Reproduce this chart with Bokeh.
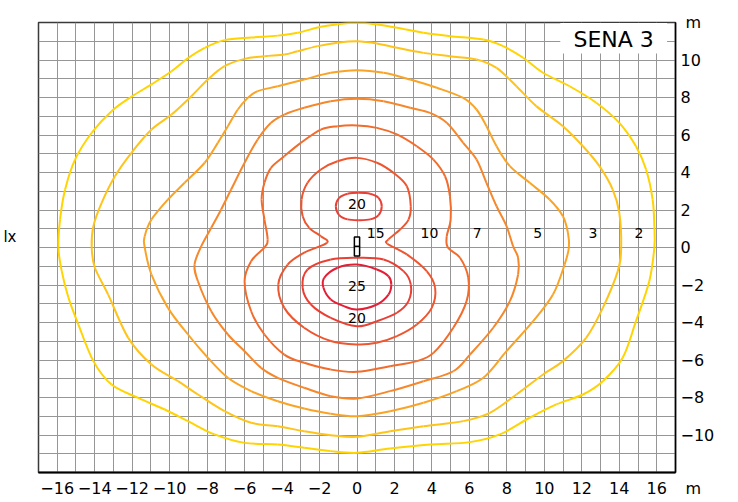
from bokeh.plotting import figure
from bokeh.models import (ColumnDataSource, FixedTicker, Label, LabelSet,
                          BoxAnnotation, LinearAxis)
from bokeh.core.properties import value
from bokeh.embed import file_html
from bokeh.resources import INLINE

# ---------------- data ----------------
levels = [2, 3, 5, 7, 10, 15, 20, 20, 25]
colors = ["#FFD400", "#FFC41A", "#F9A427", "#F6872B", "#F26C2C",
          "#EE5630", "#EA4034", "#EA4034", "#E51E36"]

c2 = [(0, 12.0), (1.06, 11.89), (2.13, 11.72), (3.55, 11.45), (4.96, 11.27), (6.74, 11.09),
      (7.8, 10.74), (8.87, 10.12), (9.93, 9.32), (11.35, 8.6), (12.77, 7.72), (14.0, 6.65),
      (14.89, 5.4), (15.43, 4.16), (15.78, 2.56), (15.87, 1.14), (15.87, 0.0),
      (15.6, -1.8), (14.89, -3.93), (14.18, -5.88), (13.12, -7.13), (12.06, -7.84),
      (10.64, -8.37), (9.22, -9.08), (7.62, -9.97), (6.03, -10.38), (3.9, -10.51),
      (1.77, -10.72), (0, -10.95),
      (-1.4, -10.86), (-2.82, -10.68), (-4.23, -10.51), (-6.0, -10.42), (-7.6, -9.97),
      (-9.02, -9.26), (-10.26, -8.64), (-11.68, -8.02), (-13.1, -7.31), (-14.07, -6.06),
      (-14.87, -4.11), (-15.4, -2.68), (-15.76, -1.26), (-15.94, 0.0),
      (-15.85, 1.49), (-15.58, 3.09), (-15.05, 4.69), (-14.16, 6.12), (-13.1, 7.27),
      (-12.04, 8.04), (-10.97, 8.7), (-9.9, 9.4), (-9.02, 10.1), (-8.13, 10.65),
      (-7.07, 11.06), (-5.65, 11.2), (-4.23, 11.3), (-3.17, 11.45), (-1.93, 11.77),
      (-1.04, 11.9), (0, 12.0)]

c3 = [(0, 11.0), (1.06, 10.88), (2.13, 10.65), (3.55, 10.38), (4.96, 10.2), (6.38, 10.03),
      (7.45, 9.58), (8.51, 8.6), (9.57, 7.54), (10.99, 6.47), (12.06, 5.4), (12.94, 4.34),
      (13.65, 3.09), (14.0, 1.85), (14.1, 0.0),
      (13.92, -1.26), (13.12, -3.22), (12.23, -4.82), (10.99, -6.06), (9.93, -6.77),
      (8.51, -7.84), (7.09, -8.82), (5.67, -9.26), (3.55, -9.53), (1.77, -9.8), (0, -10.1),
      (-1.4, -10.01), (-2.82, -9.8), (-4.23, -9.53), (-5.65, -9.35), (-7.07, -8.73),
      (-8.49, -7.84), (-9.55, -7.13), (-10.97, -6.24), (-12.21, -4.82), (-13.28, -2.51),
      (-13.99, -1.08), (-14.16, 0.0),
      (-14.07, 1.14), (-13.63, 2.38), (-12.92, 3.8), (-12.04, 5.05), (-10.97, 6.29),
      (-9.9, 7.09), (-8.84, 8.07), (-7.96, 8.96), (-7.07, 9.67), (-6.0, 10.06),
      (-4.94, 10.2), (-3.88, 10.29), (-3.17, 10.47), (-2.1, 10.74), (-1.04, 10.92), (0, 11.0)]

c5 = [(0, 9.46), (1.42, 9.32), (2.84, 8.96), (4.26, 8.52), (5.67, 7.98), (6.38, 7.36),
      (6.91, 6.47), (7.45, 5.4), (8.16, 4.34), (9.22, 3.45), (10.28, 2.56), (10.99, 1.67),
      (11.26, 0.78), (11.31, 0.0),
      (11.08, -0.91), (10.46, -2.51), (9.4, -3.93), (7.98, -5.53), (6.74, -6.95),
      (5.32, -7.66), (3.55, -8.28), (1.77, -8.73), (0, -9.0),
      (-1.4, -8.87), (-2.82, -8.59), (-4.23, -8.2), (-5.65, -7.66), (-6.89, -6.95),
      (-7.96, -5.88), (-9.02, -4.64), (-10.09, -3.22), (-10.97, -1.44), (-11.33, 0.0),
      (-11.33, 0.6), (-10.97, 1.49), (-10.09, 2.56), (-9.2, 3.45), (-8.13, 4.52),
      (-7.43, 5.58), (-6.89, 6.47), (-6.36, 7.36), (-5.83, 7.98), (-5.3, 8.34),
      (-4.23, 8.6), (-2.82, 8.96), (-1.4, 9.32), (0, 9.46)]

c7 = [(0, 7.93), (1.42, 7.8), (2.84, 7.45), (3.9, 7.18), (4.79, 6.65), (5.67, 5.58),
      (6.38, 4.69), (6.91, 3.45), (7.45, 2.2), (7.98, 1.14), (8.33, 0.07),
      (8.6, -0.55), (8.6, -1.44), (8.16, -2.86), (7.27, -4.28), (6.03, -5.71),
      (5.14, -6.6), (3.55, -7.13), (1.77, -7.66), (0, -8.05),
      (-1.4, -7.93), (-2.82, -7.48), (-4.23, -6.95), (-5.12, -6.42), (-6.0, -5.53),
      (-6.89, -4.64), (-7.78, -3.4), (-8.49, -1.8), (-8.67, -0.91), (-8.31, 0.07),
      (-7.78, 1.05), (-7.25, 2.03), (-6.72, 3.09), (-6.0, 4.52), (-5.3, 5.76),
      (-4.59, 6.65), (-3.88, 7.09), (-2.82, 7.45), (-1.4, 7.8), (0, 7.93)]

c10 = [(0, 6.51), (1.06, 6.38), (2.13, 6.03), (3.19, 5.4), (4.08, 4.69), (4.7, 3.8),
       (4.96, 2.74), (5.0, 1.49), (4.79, 0.6), (4.85, 0.0),
       (5.5, -0.55), (5.94, -1.62), (5.85, -2.86), (5.14, -4.28), (4.08, -5.62),
       (3.19, -6.06), (1.77, -6.33), (0, -6.63),
       (-1.4, -6.51), (-2.82, -6.15), (-3.88, -5.71), (-4.94, -4.64), (-5.65, -3.4),
       (-6.0, -1.8), (-5.65, -0.73), (-4.94, 0.0),
       (-4.77, 0.43), (-4.94, 1.49), (-5.09, 2.56), (-4.94, 3.45), (-4.59, 4.25),
       (-3.88, 4.87), (-3.0, 5.58), (-1.93, 6.29), (-1.04, 6.47), (0, 6.51)]

c15 = [(0, 4.78), (1.06, 4.52), (1.95, 3.98), (2.66, 3.27), (2.87, 2.2), (2.75, 1.49),
       (2.3, 0.96), (1.68, 0.43), (1.62, 0.2),
       (2.66, -0.37), (3.72, -1.26), (4.17, -2.15), (3.99, -3.22), (3.19, -4.11),
       (2.13, -4.73), (1.06, -5.08), (0, -5.17),
       (-1.4, -4.99), (-2.82, -4.28), (-3.88, -3.22), (-4.2, -1.97), (-3.7, -0.91),
       (-2.82, -0.28), (-1.6, 0.25),
       (-1.93, 0.6), (-2.55, 1.05), (-2.9, 1.67), (-2.96, 2.56), (-2.64, 3.45),
       (-1.93, 4.16), (-1.04, 4.6), (0, 4.78)]

c20_top = [(0.1, 2.92), (0.7, 2.87), (1.15, 2.65), (1.32, 2.2), (1.15, 1.73), (0.7, 1.5),
           (0.1, 1.46), (-0.5, 1.5), (-0.95, 1.73), (-1.13, 2.2), (-0.95, 2.65),
           (-0.5, 2.87), (0.1, 2.92)]

c20_bot = [(0, -0.55), (1.42, -0.64), (2.48, -1.26), (2.87, -1.97), (2.75, -2.86),
           (2.13, -3.48), (1.06, -3.93), (0, -4.2), (-1.4, -3.75), (-2.46, -3.04),
           (-2.9, -2.15), (-2.64, -1.17), (-1.4, -0.64), (0, -0.55)]

c25 = [(0, -0.91), (1.06, -1.17), (1.68, -1.53), (1.83, -1.97), (1.68, -2.51),
       (1.06, -3.04), (0, -3.31), (-0.69, -3.13), (-1.4, -2.77), (-1.79, -2.15),
       (-1.75, -1.62), (-1.04, -1.08), (0, -0.91)]

contours = [c2, c3, c5, c7, c10, c15, c20_top, c20_bot, c25]

# contour value labels
label_text = ["20", "15", "10", "7", "5", "3", "2", "25", "20"]
label_x = [0.0, 1.0, 3.87, 6.41, 9.64, 12.6, 15.05, 0.0, 0.0]
label_y = [2.3, 0.75, 0.75, 0.75, 0.75, 0.75, 0.75, -2.03, -3.75]

# luminaire position (two halves)
lum_x = [0.0, 0.0]
lum_y = [0.31, -0.2]

x_ticks = list(range(-16, 17, 2))
y_ticks = list(range(-10, 11, 2))
unit_label = "m"
y_unit_tick = 12
x_unit_tick = 17
lux_label = "lx"
lux_tick = 0.56

FONT = "DejaVu Sans"

# ---------------- smooth closed curves (Catmull-Rom -> Bezier) ----------------
seg = dict(x0=[], y0=[], x1=[], y1=[], cx0=[], cy0=[], cx1=[], cy1=[], color=[])
for c, col in zip(contours, colors):
    pts = c[:-1] if c[0] == c[-1] else c
    n = len(pts)
    for i in range(n):
        p0 = pts[(i - 1) % n]
        p1 = pts[i]
        p2 = pts[(i + 1) % n]
        p3 = pts[(i + 2) % n]
        seg["x0"].append(p1[0]); seg["y0"].append(p1[1])
        seg["x1"].append(p2[0]); seg["y1"].append(p2[1])
        seg["cx0"].append(p1[0] + (p2[0] - p0[0]) / 6.0)
        seg["cy0"].append(p1[1] + (p2[1] - p0[1]) / 6.0)
        seg["cx1"].append(p2[0] - (p3[0] - p1[0]) / 6.0)
        seg["cy1"].append(p2[1] - (p3[1] - p1[1]) / 6.0)
        seg["color"].append(col)

# ---------------- figure ----------------
p = figure(width=738, height=502, x_range=(-17, 17), y_range=(-12, 12),
           output_backend="svg", toolbar_location=None, y_axis_location="right",
           min_border_left=37, min_border_right=63, min_border_top=22,
           min_border_bottom=30)
p.background_fill_color = "white"
p.border_fill_color = "white"
p.outline_line_color = "#3a3a3a"
p.outline_line_width = 1.5

p.xgrid.ticker = FixedTicker(ticks=list(range(-16, 17)))
p.ygrid.ticker = FixedTicker(ticks=list(range(-11, 12)))
for g in (p.xgrid, p.ygrid):
    g.grid_line_color = "#969696"
    g.grid_line_width = 1

for ax in (p.xaxis, p.yaxis):
    ax.major_tick_in = 0
    ax.major_tick_out = 0
    ax.minor_tick_in = 0
    ax.minor_tick_out = 0
    ax.axis_line_color = "black"
    ax.major_label_text_font = FONT
    ax.major_label_text_font_size = "16px"
    ax.major_label_text_color = "black"
p.xaxis.ticker = FixedTicker(ticks=x_ticks + [x_unit_tick])
p.xaxis.major_label_overrides = {x_unit_tick: "\u00a0" * 7 + unit_label}
p.yaxis.ticker = FixedTicker(ticks=y_ticks + [y_unit_tick])
p.yaxis.major_label_overrides = {y_unit_tick: "\u00a0" + unit_label}
p.xaxis.axis_line_width = 2
p.yaxis.axis_line_width = 1.5
p.xaxis.major_label_standoff = 6
p.yaxis.major_label_standoff = 5

# left "lx" label as an axis label at one tick
lx_axis = LinearAxis(ticker=FixedTicker(ticks=[lux_tick]),
                     major_label_overrides={lux_tick: lux_label},
                     axis_line_color=None, major_tick_in=0, major_tick_out=0,
                     minor_tick_in=0, minor_tick_out=0,
                     major_label_standoff=22,
                     major_label_text_font=FONT,
                     major_label_text_font_size="15px",
                     major_label_text_color="black")
p.add_layout(lx_axis, "left")

src = ColumnDataSource(seg)
p.bezier(x0="x0", y0="y0", x1="x1", y1="y1", cx0="cx0", cy0="cy0",
         cx1="cx1", cy1="cy1", line_color="color", line_width=2, source=src)

# luminaire symbol
p.rect(x=lum_x, y=lum_y, width=0.28, height=0.5, fill_color="white",
       line_color="black", line_width=1.5)

lab_src = ColumnDataSource(dict(x=label_x, y=label_y, text=label_text))
p.add_layout(LabelSet(x="x", y="y", text="text", source=lab_src,
                      text_align="center", text_baseline="middle",
                      text_font=value(FONT), text_font_size=value("14px"),
                      text_color="black"))

# title box
p.add_layout(BoxAnnotation(left=10.85, right=16.55, top=11.97, bottom=10.35,
                           fill_color="white", fill_alpha=1, line_alpha=0))
p.add_layout(Label(x=13.7, y=11.08, text="SENA 3", text_align="center",
                   text_baseline="middle", text_font=FONT,
                   text_font_size="22px", text_color="black"))

open("out.html", "w").write(file_html(p, INLINE))
